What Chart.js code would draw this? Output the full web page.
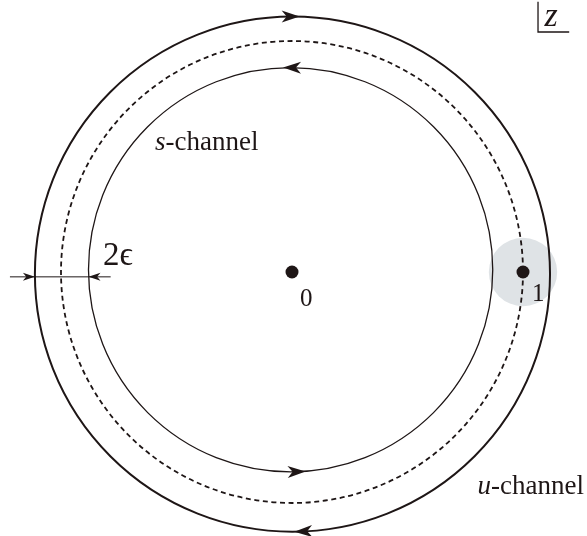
<!DOCTYPE html>
<html>
<head>
<meta charset="utf-8">
<script src="https://cdn.jsdelivr.net/npm/chart.js@4"></script>
<style>
  html, body { margin: 0; padding: 0; background: #fff; overflow: hidden; }
  #wrap { width: 587px; height: 536px; }
</style>
</head>
<body>
<div id="wrap"><canvas id="plot"></canvas></div>
<script>
// contours (middle one passes through z = 1), eps ~ 0.12
const contourRadii = [1.115, 1.0, 0.875];
const contourCX = [0.002, 0, -0.006];
const contourCY = [-0.009, 0, 0.01];
const contourDashed = [false, true, false];

// marked points on the real axis
const pointX = [0, 1];
const pointY = [0, 0];
const pointLabels = ["0", "1"];

// shaded disc around z = 1
const shadeCenter = [1, 0];
const shadeRadius = 0.148;

// arrows: which contour, angle (deg), direction (+1 ccw, -1 cw)
const arrowContour = [0, 0, 2, 2];
const arrowAngle = [90.4, 272.4, 89.6, 271.7];
const arrowDir = [-1, -1, 1, 1];

// 2eps width marker
const epsY = -0.021;
const epsLabel = "2\u03f5";

const INK = "#1e1616";
const unit = 231;  // px per unit
const cx0 = 292, cy0 = 272;

function arrowHead(ctx, x, y, ux, uy, len, half) {
  // stealth style head, tip at (x, y), pointing along (ux, uy)
  const nx = -uy, ny = ux;
  const bx = x - ux * len, by = y - uy * len;
  ctx.beginPath();
  ctx.moveTo(x, y);
  ctx.lineTo(bx + nx * half, by + ny * half);
  ctx.lineTo(x - ux * len * 0.72, y - uy * len * 0.72);
  ctx.lineTo(bx - nx * half, by - ny * half);
  ctx.closePath();
  ctx.fill();
}

const diagram = {
  id: "diagram",
  beforeDatasetsDraw(chart) {
    const ctx = chart.ctx;
    const xs = chart.scales.x, ys = chart.scales.y;
    const X = v => xs.getPixelForValue(v);
    const Y = v => ys.getPixelForValue(v);
    const R = r => xs.getPixelForValue(r) - xs.getPixelForValue(0);
    ctx.save();

    // shaded disc
    ctx.fillStyle = "#dfe3e6";
    ctx.beginPath();
    ctx.arc(X(shadeCenter[0]), Y(shadeCenter[1]), R(shadeRadius), 0, Math.PI * 2);
    ctx.fill();

    // contours
    ctx.strokeStyle = INK;
    contourRadii.forEach((r, i) => {
      ctx.lineWidth = i === 0 ? 2 : (i === 1 ? 1.8 : 1.3);
      ctx.setLineDash(contourDashed[i] ? [5, 3.6] : []);
      ctx.beginPath();
      ctx.arc(X(contourCX[i]), Y(contourCY[i]), R(r), 0, Math.PI * 2);
      ctx.stroke();
    });
    ctx.setLineDash([]);

    // arrows on contours
    ctx.fillStyle = INK;
    arrowContour.forEach((c, i) => {
      const r = contourRadii[c];
      const t = arrowAngle[i] * Math.PI / 180;
      const px = X(contourCX[c] + r * Math.cos(t)), py = Y(contourCY[c] + r * Math.sin(t));
      const ux = -Math.sin(t) * arrowDir[i], uy = -Math.cos(t) * arrowDir[i];
      arrowHead(ctx, px + ux * 9, py + uy * 9, ux, uy, 18, 6);
    });

    // 2eps marker
    const yy = Y(epsY);
    const xo = X(contourCX[0] - contourRadii[0]), xi = X(contourCX[2] - contourRadii[2]);
    ctx.lineWidth = 1;
    ctx.beginPath();
    ctx.moveTo(X(-1.221), yy);
    ctx.lineTo(X(-0.785), yy);
    ctx.stroke();
    arrowHead(ctx, xo, yy, 1, 0, 12, 4);
    arrowHead(ctx, xi, yy, -1, 0, 12, 4);

    // z box
    ctx.lineWidth = 1.3;
    ctx.beginPath();
    ctx.moveTo(X(1.065), Y(1.17));
    ctx.lineTo(X(1.065), Y(1.039));
    ctx.lineTo(X(1.2), Y(1.039));
    ctx.stroke();
    ctx.restore();
  },
  afterDatasetsDraw(chart) {
    const ctx = chart.ctx;
    const xs = chart.scales.x, ys = chart.scales.y;
    const X = v => xs.getPixelForValue(v);
    const Y = v => ys.getPixelForValue(v);
    const serif = "'Liberation Serif', 'DejaVu Serif', serif";
    ctx.save();
    ctx.fillStyle = INK;
    ctx.textBaseline = "alphabetic";
    ctx.textAlign = "left";

    // point labels
    ctx.font = "25px " + serif;
    ctx.fillText(pointLabels[0], X(pointX[0]) + 8, Y(pointY[0]) + 34);
    ctx.fillText(pointLabels[1], X(pointX[1]) + 9, Y(pointY[1]) + 29);

    // 2eps
    ctx.font = "33px " + serif;
    ctx.fillText(epsLabel, X(-0.818), Y(0.03));

    // channel labels
    function mixed(it, rest, x, y) {
      ctx.font = "italic 27px " + serif;
      ctx.fillText(it, x, y);
      const w = ctx.measureText(it).width;
      ctx.font = "27px " + serif;
      ctx.fillText(rest, x + w, y);
    }
    mixed("s", "-channel", X(-0.593), Y(0.528));
    mixed("u", "-channel", X(0.803), Y(-0.961));

    // z
    ctx.font = "italic 34px " + serif;
    ctx.fillText("z", X(1.093), Y(1.067));
    ctx.restore();
  }
};

new Chart(document.getElementById("plot"), {
  type: "scatter",
  data: {
    datasets: [{
      label: "points",
      data: pointX.map((x, i) => ({ x: x, y: pointY[i] })),
      pointRadius: 6.5,
      pointHoverRadius: 6.5,
      backgroundColor: INK,
      borderWidth: 0
    }]
  },
  options: {
    responsive: true,
    maintainAspectRatio: false,
    animation: false,
    events: [],
    layout: { padding: 0, autoPadding: false },
    plugins: { legend: { display: false }, tooltip: { enabled: false } },
    scales: {
      x: { type: "linear", display: false, min: -cx0 / unit, max: (587 - cx0) / unit },
      y: { type: "linear", display: false, min: -(536 - cy0) / unit, max: cy0 / unit }
    }
  },
  plugins: [diagram]
});
</script>
</body>
</html>
